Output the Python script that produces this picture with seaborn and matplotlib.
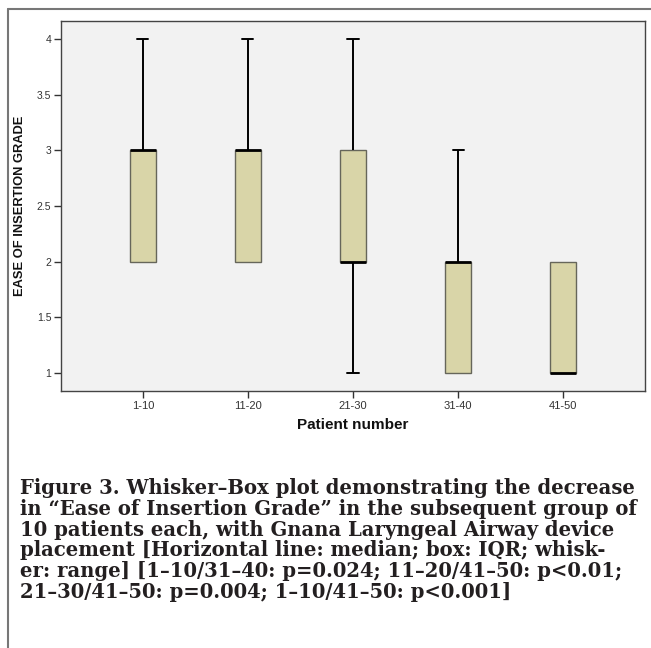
import numpy as np
import pandas as pd
import matplotlib
matplotlib.use("Agg")
import matplotlib.pyplot as plt
from matplotlib.lines import Line2D
import seaborn as sns

# ---- data (ease of insertion grade, 10 patients per group) ----
groups = ["1-10", "11-20", "21-30", "31-40", "41-50"]
grades_1_10 = [2, 2, 2, 2, 3, 3, 3, 3, 3, 4]
grades_11_20 = [2, 2, 2, 2, 3, 3, 3, 3, 3, 4]
grades_21_30 = [1, 2, 2, 2, 2, 2, 3, 3, 3, 4]
grades_31_40 = [1, 1, 1, 1, 2, 2, 2, 2, 2, 3]
grades_41_50 = [1, 1, 1, 1, 1, 1, 2, 2, 2, 2]
ytick_values = [1, 1.5, 2, 2.5, 3, 3.5, 4]
ytick_labels = ["1", "1.5", "2", "2.5", "3", "3.5", "4"]

caption_lines = [
    "Figure 3. Whisker\u2013Box plot demonstrating the decrease",
    "in \u201cEase of Insertion Grade\u201d in the subsequent group of",
    "10 patients each, with Gnana Laryngeal Airway device",
    "placement [Horizontal line: median; box: IQR; whisk-",
    "er: range] [1\u201310/31\u201340: p=0.024; 11\u201320/41\u201350: p<0.01;",
    "21\u201330/41\u201350: p=0.004; 1\u201310/41\u201350: p<0.001]",
]

all_grades = [grades_1_10, grades_11_20, grades_21_30, grades_31_40, grades_41_50]
df = pd.DataFrame({
    "group": np.repeat(groups, [len(g) for g in all_grades]),
    "grade": np.concatenate(all_grades),
})

sns.set_style("white")
plt.rcParams["font.family"] = ["Liberation Sans", "DejaVu Sans"]

W, H = 651, 648
fig = plt.figure(figsize=(W / 100, H / 100), dpi=100)
ax = fig.add_axes([61 / W, 1 - 391 / H, (645 - 61) / W, (391 - 20.7) / H])
ax.set_facecolor("#F2F2F2")

WL = 1.4
sns.boxplot(
    data=df, x="group", y="grade", order=groups, ax=ax,
    whis=(0, 100), width=0.254, color="#D9D5A8", saturation=1,
    linecolor="#555548", linewidth=1.0,
    boxprops=dict(edgecolor="#66665a", linewidth=1.0),
    medianprops=dict(color="black", linewidth=2.0),
    whiskerprops=dict(color="black", linewidth=WL),
    capprops=dict(color="black", linewidth=WL),
    capwidths=0.105,
)

# hide caps of zero-length whiskers (SPSS style)
zero_whiskers = []
for ln in ax.lines:
    x, y = np.asarray(ln.get_xdata(), float), np.asarray(ln.get_ydata(), float)
    if len(x) == 2 and np.isclose(x[0], x[1]) and np.isclose(y[0], y[1]):
        zero_whiskers.append((x[0], y[0]))
for ln in ax.lines:
    x, y = np.asarray(ln.get_xdata(), float), np.asarray(ln.get_ydata(), float)
    if len(x) == 2 and np.isclose(y[0], y[1]) and np.isclose(ln.get_linewidth(), WL):
        xc = x.mean()
        for (zx, zy) in zero_whiskers:
            if np.isclose(xc, zx) and np.isclose(y[0], zy):
                ln.set_visible(False)

ax.set_xlim(-0.78, 4.78)
ax.set_ylim(0.835, 4.167)
ax.set_yticks(ytick_values)
ax.set_yticklabels(ytick_labels)
ax.tick_params(axis="both", direction="out", length=5, width=1, color="#333333",
               labelcolor="#333333", left=True, bottom=True)
ax.tick_params(axis="x", labelsize=8, pad=2)
ax.tick_params(axis="y", labelsize=7.5, pad=2)
for s in ax.spines.values():
    s.set_color("#444444")
    s.set_linewidth(1.0)
    s.set_visible(True)

ax.set_xlabel("Patient number", fontsize=11, fontweight="bold", color="#111111", labelpad=5)
ax.set_ylabel("EASE OF INSERTION GRADE", fontsize=9.3, fontweight="bold", color="#111111", labelpad=8)

# outer frame (top and left edges)
fig.add_artist(Line2D([8 / W, 1.0], [1 - 9 / H, 1 - 9 / H], transform=fig.transFigure,
                      color="#777777", linewidth=1.5))
fig.add_artist(Line2D([8 / W, 8 / W], [0.0, 1 - 9 / H], transform=fig.transFigure,
                      color="#777777", linewidth=1.5))

# caption
base0 = 494
step = 20.8
for i, line in enumerate(caption_lines):
    fig.text(20 / W, 1 - (base0 + i * step) / H, line, family=["DejaVu Serif"],
             fontweight="bold", fontsize=14.1, color="#231f20", va="baseline", ha="left")

fig.savefig("out.png", dpi=100)
